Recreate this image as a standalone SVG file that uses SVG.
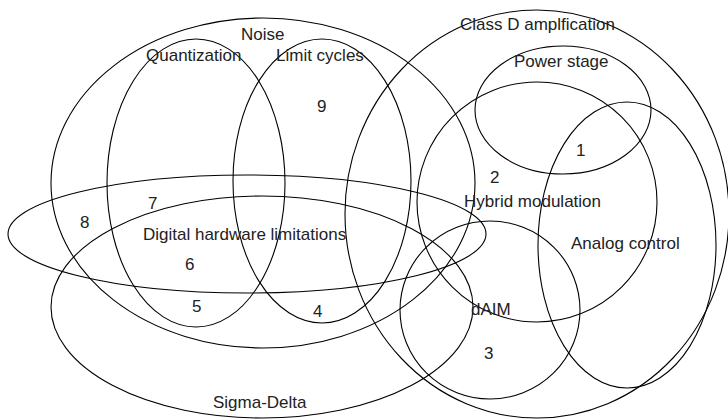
<svg xmlns="http://www.w3.org/2000/svg" width="728" height="419" viewBox="0 0 728 419">
  <style>
    .set { fill: none; stroke: #000; stroke-width: 1.1; }
    .lbl { font-family: "Liberation Sans", Arial, sans-serif; font-size: 17px; fill: #222; }
  </style>
  <rect width="728" height="419" fill="#fff"/>
  <!-- set outlines -->
  <g id="noise"><ellipse class="set" cx="263" cy="183" rx="212" ry="165"/></g>
  <g id="quantization"><ellipse class="set" cx="196" cy="183" rx="89" ry="144"/></g>
  <g id="limit-cycles"><ellipse class="set" cx="322" cy="181" rx="89" ry="142"/></g>
  <g id="digital-hardware"><ellipse class="set" cx="247" cy="234" rx="239" ry="59"/></g>
  <g id="sigma-delta"><ellipse class="set" cx="262" cy="307" rx="211" ry="111"/></g>
  <g id="class-d"><ellipse class="set" cx="537" cy="214" rx="192" ry="204"/></g>
  <g id="power-stage"><ellipse class="set" cx="563" cy="110" rx="88" ry="64"/></g>
  <g id="hybrid-modulation"><ellipse class="set" cx="537" cy="202" rx="120" ry="120"/></g>
  <g id="analog-control"><ellipse class="set" cx="627" cy="245" rx="89" ry="143"/></g>
  <g id="daim"><ellipse class="set" cx="490" cy="310" rx="90" ry="89"/></g>
  <!-- set names -->
  <g id="labels">
    <text class="lbl" x="241" y="40">Noise</text>
    <text class="lbl" x="146" y="61">Quantization</text>
    <text class="lbl" x="276" y="61">Limit cycles</text>
    <text class="lbl" x="143" y="240">Digital hardware limitations</text>
    <text class="lbl" x="213" y="408">Sigma-Delta</text>
    <text class="lbl" x="460" y="30">Class D amplfication</text>
    <text class="lbl" x="514" y="67">Power stage</text>
    <text class="lbl" x="464" y="207">Hybrid modulation</text>
    <text class="lbl" x="571" y="249">Analog control</text>
    <text class="lbl" x="471" y="315">dAIM</text>
  </g>
  <!-- region numbers -->
  <g id="regions">
    <text class="lbl" x="317" y="112">9</text>
    <text class="lbl" x="148" y="209">7</text>
    <text class="lbl" x="80" y="228">8</text>
    <text class="lbl" x="185" y="270">6</text>
    <text class="lbl" x="192" y="312">5</text>
    <text class="lbl" x="313" y="317">4</text>
    <text class="lbl" x="576" y="156">1</text>
    <text class="lbl" x="490" y="183">2</text>
    <text class="lbl" x="484" y="359">3</text>
  </g>
</svg>
